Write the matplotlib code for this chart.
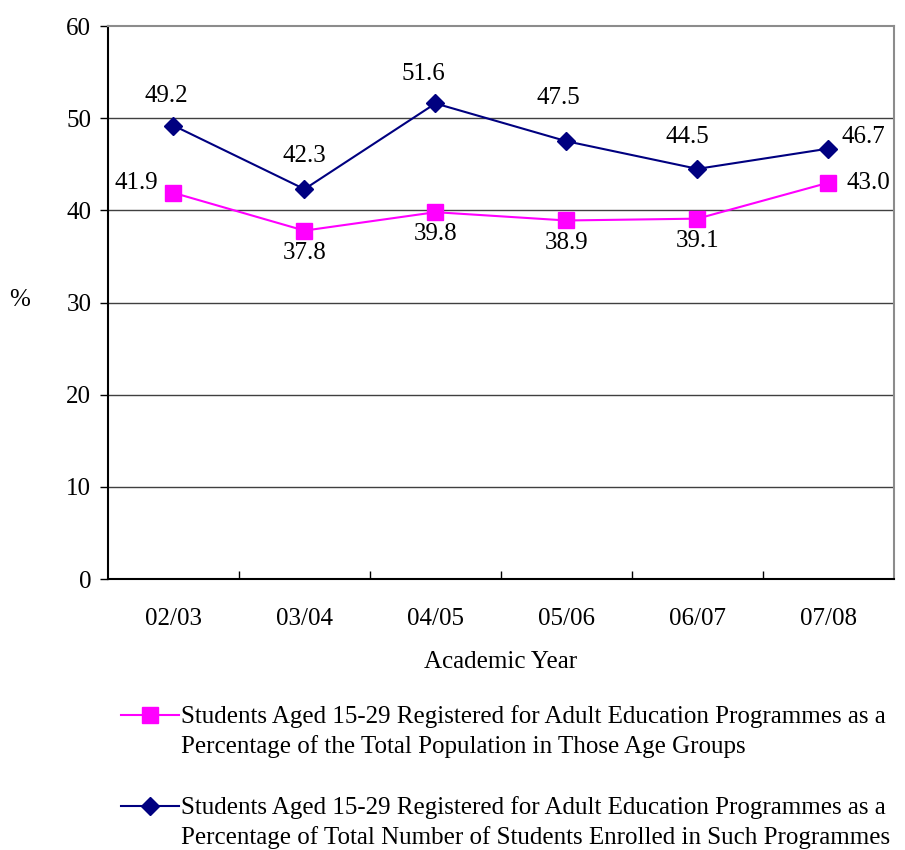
import numpy as np
import matplotlib
matplotlib.use("Agg")
from matplotlib import pyplot as plt
from matplotlib.legend_handler import HandlerLine2D

plt.rcParams['font.family'] = ['Liberation Serif', 'DejaVu Serif']

years = ["02/03", "03/04", "04/05", "05/06", "06/07", "07/08"]
pct_population = [41.9, 37.8, 39.8, 38.9, 39.1, 43.0]
pct_students = [49.2, 42.3, 51.6, 47.5, 44.5, 46.7]

label_pop = ("Students Aged 15-29 Registered for Adult Education Programmes as a\n"
             "Percentage of the Total Population in Those Age Groups")
label_stu = ("Students Aged 15-29 Registered for Adult Education Programmes as a\n"
             "Percentage of Total Number of Students Enrolled in Such Programmes")

# label offsets (points) for each value
off_pop = [(-27, 7), (0, -16), (0, -16), (0, -16), (0, -16), (29, 0)]
off_stu = [(-5, 21), (0, 24), (-9, 21), (-6, 31), (-7, 23), (25, 8)]


class FirstLineHandler(HandlerLine2D):
    # put the legend handle beside the first line of a two-line label
    def create_artists(self, legend, orig_handle, xdescent, ydescent,
                       width, height, fontsize, trans):
        arts = super().create_artists(legend, orig_handle, xdescent, ydescent,
                                      width, height, fontsize, trans)
        for a in arts:
            a.set_ydata(np.asarray(a.get_ydata()) + 0.66 * fontsize)
        return arts


fig = plt.figure(figsize=(9.05, 8.5), dpi=100)
ax = fig.add_axes([0.1193, 0.3188, 0.8685, 0.6506])

x = np.arange(len(years)) + 0.5
l1, = ax.plot(x, pct_population, color="#FF00FF", lw=1.5, marker="s", ms=12,
              label=label_pop, zorder=3)
l2, = ax.plot(x, pct_students, color="#000080", lw=1.5, marker="D", ms=9.5,
              label=label_stu, zorder=3)

for xi, v, o in zip(x, pct_population, off_pop):
    ax.annotate(f"{v:.1f}", (xi, v), xytext=o, textcoords="offset points",
                ha="center", va="center", fontsize=18)
for xi, v, o in zip(x, pct_students, off_stu):
    ax.annotate(f"{v:.1f}", (xi, v), xytext=o, textcoords="offset points",
                ha="center", va="center", fontsize=18)

ax.set_xlim(0, len(years))
ax.set_ylim(0, 60)
ax.set_yticks(np.arange(0, 61, 10))
ax.tick_params(axis="y", labelsize=18, direction="out", length=6, width=1, pad=6)
ax.set_xticks(np.arange(1, len(years)))
ax.set_xticklabels([])
ax.set_xticks(x, minor=True)
ax.set_xticklabels(years, minor=True, fontsize=18)
ax.tick_params(axis="x", which="major", direction="in", length=6, width=1)
ax.tick_params(axis="x", which="minor", length=0, pad=21)

for yv in range(10, 60, 10):
    ax.axhline(yv, color="#404040", lw=1, zorder=1)

for s in ["top", "right"]:
    ax.spines[s].set_color("#8c8c8c")
    ax.spines[s].set_linewidth(1.5)
for s in ["left", "bottom"]:
    ax.spines[s].set_color("black")
    ax.spines[s].set_linewidth(1.5)

ax.set_xlabel("Academic Year", fontsize=18)
ax.xaxis.set_label_coords(0.5, -0.131)
ax.set_ylabel("%", fontsize=18, rotation=0, va="center")
ax.yaxis.set_label_coords(-0.112, 0.505)

leg = fig.legend(handles=[l1, l2], loc="upper left", bbox_to_anchor=(0.12, 0.185),
                 frameon=False, fontsize=18, labelspacing=1.55, handlelength=2.3,
                 handletextpad=0.1, borderpad=0,
                 handler_map={l1: FirstLineHandler(), l2: FirstLineHandler()})
for t in leg.get_texts():
    t.set_linespacing(1.35)

fig.savefig("out.png", dpi=100)
